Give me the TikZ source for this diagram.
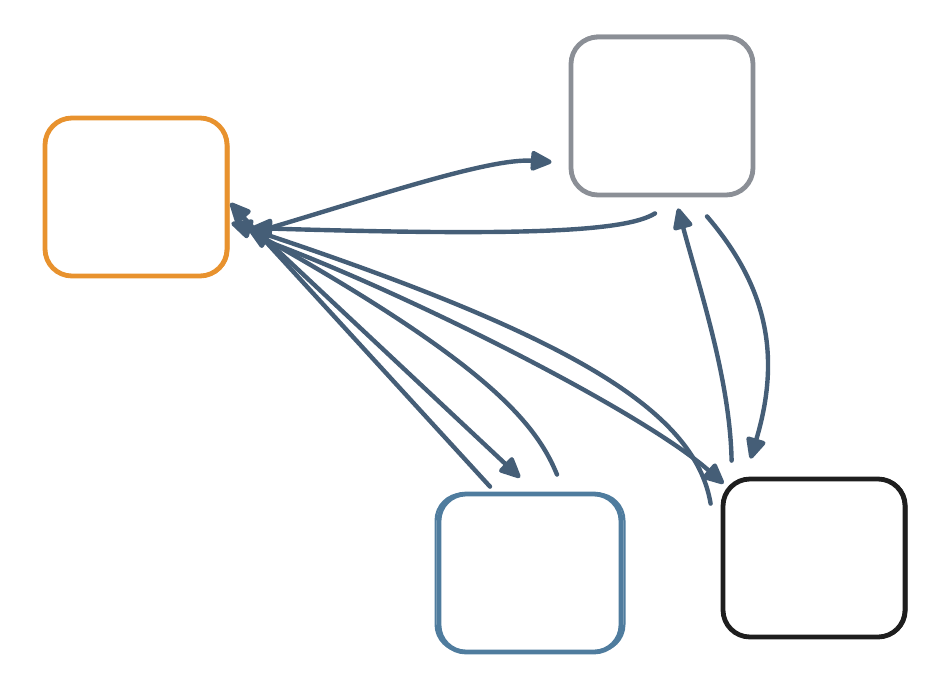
\documentclass[tikz,border=0pt]{standalone}
\usepackage{tikz}
\usetikzlibrary{arrows.meta,positioning,calc}
\definecolor{orng}{HTML}{E8922E}
\definecolor{grey}{HTML}{8B8F96}
\definecolor{blu}{HTML}{4F7C9E}
\definecolor{blk}{HTML}{1E1E1E}
\definecolor{edg}{HTML}{455E77}

\begin{document}
\begin{tikzpicture}[x=1pt,y=-1pt,>={Triangle[length=24pt,width=21pt,round]}]
  \tikzset{box/.style={draw,line width=4.8pt,rounded corners=27pt,minimum width=182pt,minimum height=158pt,inner sep=0pt},
    box2/.style={line width=2.2pt,rounded corners=27pt},
    edge/.style={->,draw=edg,line width=4.4pt,line cap=round}}
  \useasboundingbox (0,0) rectangle (944,686);
  % boxes
  \node[box,draw=orng] (A) at (136,197) {};
  \node[box,draw=grey] (B) at (662,116) {};
  \node[box,draw=blu] (C) at (530,573) {};
  \node[box,draw=blk] (D) at (814,558) {};
  \draw[box2,orng] ($(A.south west)+(2,-2)$) rectangle ($(A.north east)+(-1,3)$);
  \draw[box2,grey] ($(B.south west)+(3,-3)$) rectangle ($(B.north east)+(-2,1)$);
  \draw[box2,blu] ($(C.south west)+(-1,-3)$) rectangle ($(C.north east)+(1,2)$);
  \draw[box2,blk] ($(D.south west)+(2,-2)$) rectangle ($(D.north east)+(-1,2)$);
  % end points
  \coordinate (a1) at ($(A.east)+(40,31)$);
  \coordinate (a2) at ($(A.east)+(20,33)$);
  \coordinate (a3) at ($(A.east)+(1,6)$);
  \coordinate (a4) at ($(A.east)+(2,26)$);
  \coordinate (a5) at ($(A.east)+(22,31)$);
  \coordinate (a6) at ($(A.east)+(34,43)$);
  \coordinate (a7) at ($(A.east)+(37,43)$);
  \coordinate (b1) at ($(B.west)+(-17,46)$);
  \coordinate (b2) at ($(B.south)+(-7,16)$);
  \coordinate (b3) at ($(B.south)+(16,11)$);
  \coordinate (b4) at ($(B.south)+(45,19)$);
  \coordinate (c1) at ($(C.north)+(-40,-5)$);
  \coordinate (c2) at ($(C.north)+(-10,-14)$);
  \coordinate (c3) at ($(C.north)+(27,-17)$);
  \coordinate (d1) at ($(D.north west)+(3,7)$);
  \coordinate (d2) at ($(D.north west)+(-10,27)$);
  \coordinate (d3) at ($(D.north west)+(11,-16)$);
  \coordinate (d4) at ($(D.north west)+(30,-18)$);
  % connectors
  \draw[edge] (a1) .. controls (380,195) and (490,158) .. (b1);
  \draw[edge] (b2) .. controls (625,232) and (520,236) .. (a5);
  \draw[edge] (c1) -- (a3);
  \draw[edge] (a7) -- (c2);
  \draw[edge] (c3) .. controls (535,420) and (480,360) .. (a2);
  \draw[edge] (a6) .. controls (400,290) and (640,410) .. (d1);
  \draw[edge] (d2) .. controls (695,410) and (570,335) .. (a4);
  \draw[edge] (d3) .. controls (730,380) and (700,290) .. (b3);
  \draw[edge] (b4) .. controls (770,290) and (780,360) .. (d4);
\end{tikzpicture}
\end{document}
